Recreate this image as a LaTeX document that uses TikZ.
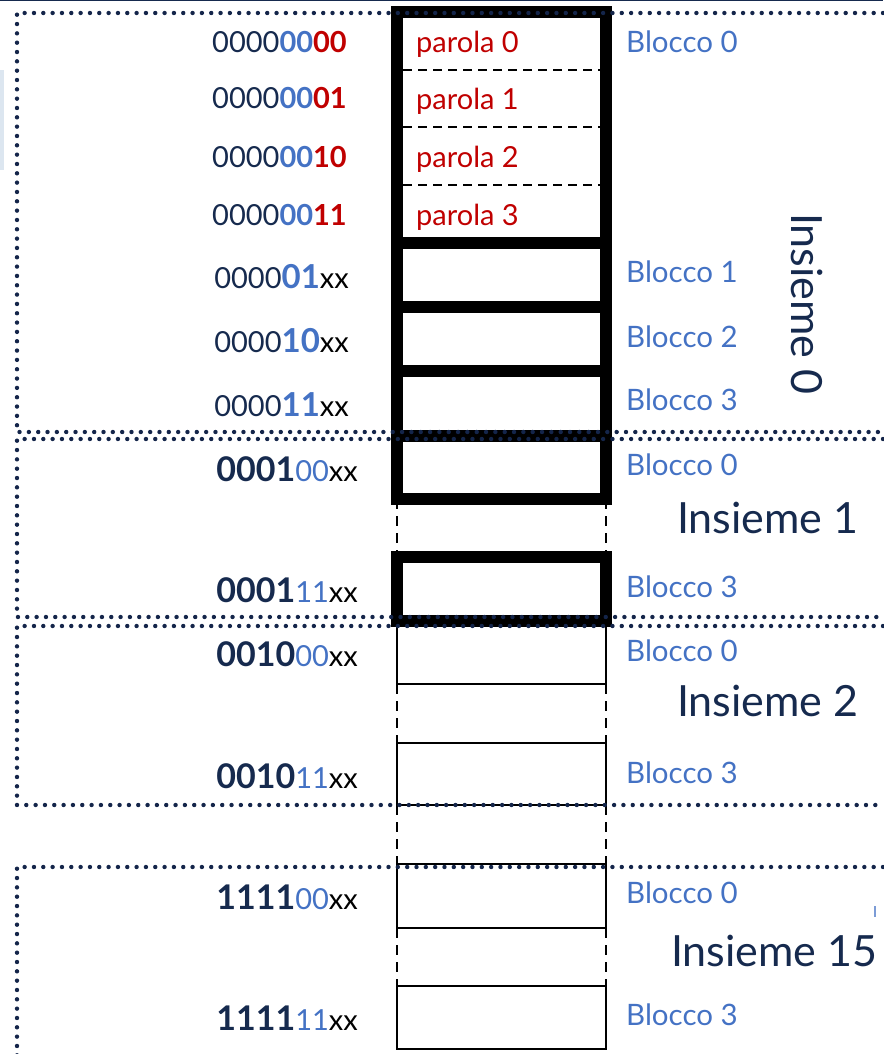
\documentclass[tikz,border=0pt]{standalone}
\usepackage{fontspec}
\setmainfont{Lato}
\usetikzlibrary{calc}
\definecolor{navy}{HTML}{162A4E}
\definecolor{accblue}{HTML}{4472C4}
\definecolor{accred}{HTML}{C00000}
\definecolor{dotnavy}{HTML}{14254A}
\definecolor{paleblue}{HTML}{DCE6F0}
\newcommand\fsz[1]{\fontsize{#1}{#1}\selectfont}
\tikzset{
  thickbox/.style={draw=black, line width=11.5pt, minimum width=209pt, inner sep=0pt, outer sep=0pt},
  thinbox/.style={draw=black, line width=2pt, minimum width=209pt, inner sep=0pt, outer sep=0pt},
  vgap/.style={draw=black, line width=2pt, dash pattern=on 10pt off 7pt},
  wordsep/.style={draw=black, line width=2pt, dash pattern=on 9pt off 6pt},
  setline/.style={draw=dotnavy, line width=4.4pt, line cap=round, dash pattern=on 0pt off 9.33pt},
  addr/.style={anchor=base east, inner sep=0pt, text=navy, font=\fsz{29}},
  blk/.style={anchor=base west, inner sep=0pt, text=accblue, font=\fsz{29.5}},
  word/.style={anchor=base west, inner sep=0pt, text=accred, font=\fsz{29}},
  setlbl/.style={anchor=base west, inner sep=0pt, text=navy, font=\fsz{43}},
}
\begin{document}
\begin{tikzpicture}[x=1pt,y=-1pt]
\useasboundingbox (0,0) rectangle (883,1054);
\fill[navy] (0,0) rectangle (883,1.5);
\fill[paleblue] (0,70) rectangle (4,170);

% ---- cache blocks (thick) ----
\node[thickbox, minimum height=231pt] (s0b0) at (501.5,127.5) {};
\node[thickbox, minimum height=64pt] (s0b1) at (501.5,275) {};
\node[thickbox, minimum height=64pt] (s0b2) at (501.5,339) {};
\node[thickbox, minimum height=65pt] (s0b3) at (501.5,403.5) {};
\node[thickbox, minimum height=63pt] (s1b0) at (501.5,467.5) {};
\node[thickbox, minimum height=64pt] (s1b3) at (501.5,589) {};
% ---- thin blocks ----
\node[thinbox, minimum height=63pt] (s2b0) at (501.5,652.5) {};
\node[thinbox, minimum height=62pt] (s2b3) at (501.5,774) {};
\node[thinbox, minimum height=64pt] (s15b0) at (501.5,896) {};
\node[thinbox, minimum height=63pt] (s15b3) at (501.5,1017.5) {};

% word separators inside block 0
\foreach \yy in {70,127,185}{
  \draw[wordsep] ($(s0b0.west |- 0,\yy)+(6,0)$) -- ($(s0b0.east |- 0,\yy)+(-6,0)$);
}

% dashed gaps between blocks
\draw[vgap] (s1b0.south west) -- (s1b3.north west);
\draw[vgap] (s1b0.south east) -- (s1b3.north east);
\draw[vgap] (s2b0.south west) -- (s2b3.north west);
\draw[vgap] (s2b0.south east) -- (s2b3.north east);
\draw[vgap] (s2b3.south west) -- (s15b0.north west);
\draw[vgap] (s2b3.south east) -- (s15b0.north east);
\draw[vgap] (s15b0.south west) -- (s15b3.north west);
\draw[vgap] (s15b0.south east) -- (s15b3.north east);

% ---- set outlines (dotted) ----
\coordinate (i0a) at (883,13);  \coordinate (i0b) at (883,432);
\coordinate (i1a) at (883,439); \coordinate (i1b) at (883,617);
\coordinate (i2a) at (883,626); \coordinate (i2b) at (883,805);
\coordinate (i15a) at (883,867); \coordinate (i15b) at (17,1060);
\draw[setline] (i0a) -- (17,13) -- (17,432) -- (i0b);
\draw[setline] (i1a) -- (17,439) -- (17,617) -- (i1b);
\draw[setline] (i2a) -- (17,626) -- (17,805) -- (i2b);
\draw[setline] (i15a) -- (17,867) -- (i15b);

% ---- addresses ----
\node[addr] (a1) at (347,53) {0000\textbf{\textcolor{accblue}{00}\textcolor{accred}{00}}};
\node[addr] (a2) at (347,109) {0000\textbf{\textcolor{accblue}{00}\textcolor{accred}{01}}};
\node[addr] (a3) at (347,167) {0000\textbf{\textcolor{accblue}{00}\textcolor{accred}{10}}};
\node[addr] (a4) at (347,225) {0000\textbf{\textcolor{accblue}{00}\textcolor{accred}{11}}};
\node[addr] (a5) at (349,288) {0000{\fsz{33}\bfseries\textcolor{accblue}{01}}\textcolor{black}{xx}};
\node[addr] (a6) at (349,352) {0000{\fsz{33}\bfseries\textcolor{accblue}{10}}\textcolor{black}{xx}};
\node[addr] (a7) at (349,416) {0000{\fsz{33}\bfseries\textcolor{accblue}{11}}\textcolor{black}{xx}};
\node[addr] (a8) at (358,481) {{\fsz{34}\bfseries 0001}\textcolor{accblue}{00}\textcolor{black}{xx}};
\node[addr] (a9) at (358,602) {{\fsz{34}\bfseries 0001}\textcolor{accblue}{11}\textcolor{black}{xx}};
\node[addr] (a10) at (358,666) {{\fsz{34}\bfseries 0010}\textcolor{accblue}{00}\textcolor{black}{xx}};
\node[addr] (a11) at (358,788) {{\fsz{34}\bfseries 0010}\textcolor{accblue}{11}\textcolor{black}{xx}};
\node[addr] (a12) at (358,909) {{\fsz{34}\bfseries 1111}\textcolor{accblue}{00}\textcolor{black}{xx}};
\node[addr] (a13) at (358,1030) {{\fsz{34}\bfseries 1111}\textcolor{accblue}{11}\textcolor{black}{xx}};

% ---- words ----
\node[word] (w0) at (416,53) {parola 0};
\node[word] (w1) at (416,110) {parola 1};
\node[word] (w2) at (416,167) {parola 2};
\node[word] (w3) at (416,225) {parola 3};

% ---- block labels ----
\node[blk] (l00) at (626,53) {Blocco 0};
\node[blk] (l01) at (626,282) {Blocco 1};
\node[blk] (l02) at (626,347) {Blocco 2};
\node[blk] (l03) at (626,410) {Blocco 3};
\node[blk] (l10) at (626,475) {Blocco 0};
\node[blk] (l13) at (626,597) {Blocco 3};
\node[blk] (l20) at (626,661) {Blocco 0};
\node[blk] (l23) at (626,783) {Blocco 3};
\node[blk] (l150) at (626,903) {Blocco 0};
\node[blk] (l153) at (626,1025) {Blocco 3};

% ---- set labels ----
\node[setlbl, rotate=-90] (n0) at (791,213) {Insieme 0};
\node[setlbl] (n1) at (677,533) {Insieme 1};
\node[setlbl] (n2) at (677,716) {Insieme 2};
\node[setlbl] (n15) at (671,966) {Insieme 15};

\draw[accblue!70, line width=1.5pt] (875,906) -- (875,917);
\end{tikzpicture}
\end{document}
